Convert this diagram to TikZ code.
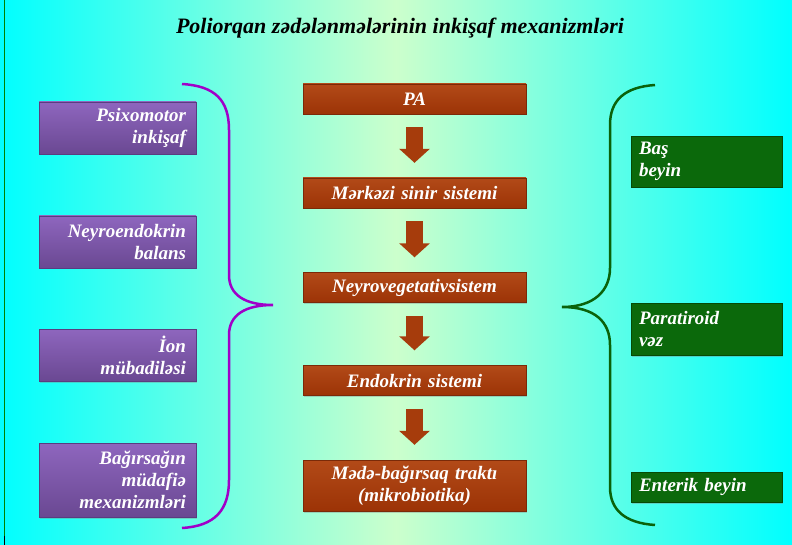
\documentclass[tikz,border=0pt]{standalone}
\usepackage{fontspec}
\setmainfont{Liberation Serif}
\usepackage{tikz}
\usetikzlibrary{arrows.meta,shadows}

\definecolor{bgcyan}{HTML}{00FFFF}
\definecolor{bgpale}{HTML}{CCFFCC}
\definecolor{purtop}{HTML}{8E66BE}
\definecolor{purbot}{HTML}{6A4892}
\definecolor{purline}{HTML}{5A3C80}
\definecolor{brtop}{HTML}{B24A18}
\definecolor{brbot}{HTML}{9C3306}
\definecolor{brline}{HTML}{7A2A08}
\definecolor{grbox}{HTML}{0B690B}
\definecolor{grline}{HTML}{064A06}
\definecolor{bracepur}{HTML}{A000C8}
\definecolor{bracegr}{HTML}{0A620A}
\definecolor{arrbr}{HTML}{A63C0C}

\tikzset{
  boxtext/.style={text=white, font=\fontsize{19}{22}\selectfont\bfseries\itshape},
  leftbox/.style={boxtext, top color=purtop, bottom color=purbot, draw=purline,
    text width=137pt, inner xsep=10pt, inner ysep=0pt, minimum height=52pt, align=right,
    drop shadow={shadow xshift=1pt, shadow yshift=-1.5pt, opacity=0.35}},
  midbox/.style={boxtext, top color=brtop, bottom color=brbot, draw=brline,
    text width=213pt, inner xsep=5pt, inner ysep=0pt, minimum height=30pt, align=center,
    drop shadow={shadow xshift=1pt, shadow yshift=-1.5pt, opacity=0.35}},
  rightbox/.style={boxtext, fill=grbox, draw=grline,
    text width=135pt, inner xsep=8pt, inner ysep=0pt, minimum height=51pt, align=left,
    drop shadow={shadow xshift=1pt, shadow yshift=-1.5pt, opacity=0.35}},
  flowarrow/.style={draw=arrbr, line width=17pt, -{Triangle[width=30pt,length=14pt]},
    shorten <=13pt, shorten >=15pt},
  purbrace/.style={draw=bracepur, line width=2.5pt},
  grbrace/.style={draw=bracegr, line width=2.5pt}
}

\begin{document}
\begin{tikzpicture}[x=1pt,y=-1pt]
	\useasboundingbox (0,0) rectangle (792,545);
	% background
	\shade[left color=bgcyan, right color=bgcyan, middle color=bgpale] (0,0) rectangle (792,545);
	\draw[green!50!black, line width=1pt] (4,0) -- (4,536);
	\draw[black, line width=1pt] (4,536) -- (4,545);

	\node[font=\fontsize{22}{24}\selectfont\bfseries\itshape] (title) at (400,28) {Poliorqan zədələnmələrinin inkişaf mexanizmləri};

	% left column
	\node[leftbox] (psix) at (117.5,128) {Psixomotor\\inkişaf};
	\node[leftbox] (neyroend) at (117.5,242) {Neyroendokrin\\balans};
	\node[leftbox] (ion) at (117.5,355) {İon\\mübadiləsi};
	\node[leftbox, minimum height=74pt] (bagir) at (117.5,480) {Bağırsağın\\müdafiə\\mexanizmləri};

	% middle column
	\node[midbox] (pa) at (414.5,99) {PA};
	\node[midbox] (mss) at (414.5,193) {Mərkəzi sinir sistemi};
	\node[midbox] (nvs) at (414.5,287.5) {Neyrovegetativsistem};
	\node[midbox] (endo) at (414.5,380.5) {Endokrin sistemi};
	\node[midbox, minimum height=51pt] (mbt) at (414.5,485.5) {Mədə-bağırsaq traktı\\(mikrobiotika)};

	\draw[flowarrow] (pa.south) -- (mss.north);
	\draw[flowarrow] (mss.south) -- (nvs.north);
	\draw[flowarrow] (nvs.south) -- (endo.north);
	\draw[flowarrow] (endo.south) -- (mbt.north);

	% right column
	\node[rightbox] (bas) at (706.5,161.5) {Baş\\beyin};
	\node[rightbox, minimum height=52pt] (parat) at (706.5,329) {Paratiroid\\vəz};
	\node[rightbox, minimum height=30pt] (enter) at (706.5,487) {Enterik beyin};

	% braces
	\draw[purbrace] (182,84) .. controls (215,86) and (229,100) .. (229,130) -- (229,275)
		.. controls (229,295) and (245,305) .. (273,305)
		.. controls (245,305) and (229,315) .. (229,335) -- (229,480)
		.. controls (229,510) and (215,526) .. (182,528);
	\draw[grbrace] (655,85) .. controls (625,87) and (610,100) .. (610,125) -- (610,268)
		.. controls (610,290) and (595,307) .. (562,307)
		.. controls (595,307) and (610,322) .. (610,345) -- (610,487)
		.. controls (610,510) and (625,523) .. (655,525);
\end{tikzpicture}
\end{document}
